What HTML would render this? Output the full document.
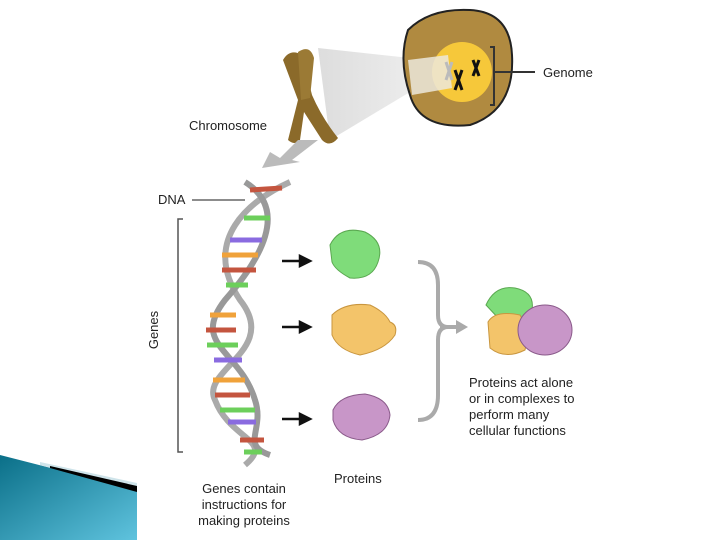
<!DOCTYPE html>
<html><head><style>
body{margin:0;width:720px;height:540px;background:#fff;overflow:hidden;position:relative;font-family:"Liberation Sans",sans-serif}
.t{position:absolute;font-size:13px;color:#222;line-height:16px}
</style></head><body>
<svg width="720" height="540" style="position:absolute;left:0;top:0">
<defs>
<linearGradient id="bl" x1="0" y1="0" x2="1" y2="1"><stop offset="0" stop-color="#0a6f88"/><stop offset="1" stop-color="#5fc3de"/></linearGradient>
<linearGradient id="beam" x1="0" y1="0" x2="1" y2="0"><stop offset="0" stop-color="#ddd"/><stop offset="1" stop-color="#f4f4f4"/></linearGradient>
</defs>
<!-- blue wedge -->
<polygon points="0,455 137,490 137,540 0,540" fill="url(#bl)"/>
<polygon points="40,462 137,483 137,490 40,465" fill="#cfe4ea"/>
<polygon points="50,466 137,486 137,492 50,468" fill="#000"/>
<!-- beam -->
<polygon points="318,48 410,58 462,72 410,92 330,140" fill="url(#beam)"/>
<!-- cell -->
<path d="M408,30 Q430,8 470,10 Q510,12 512,55 Q515,110 470,125 Q420,130 410,95 Q398,60 408,30Z" fill="#b08a40" stroke="#222" stroke-width="2"/>
<circle cx="462" cy="72" r="30" fill="#f6c83a"/>
<polygon points="408,60 448,55 452,88 412,95" fill="#ece8dc" opacity="0.85"/>
<g stroke="#111" stroke-width="3">
<line x1="446" y1="62" x2="452" y2="80" stroke="#bbb"/><line x1="452" y1="62" x2="446" y2="80" stroke="#bbb"/>
<line x1="455" y1="70" x2="462" y2="90"/><line x1="462" y1="70" x2="455" y2="90"/>
<line x1="473" y1="60" x2="479" y2="76"/><line x1="479" y1="60" x2="473" y2="76"/>
</g>
<path d="M490,47 H494 V105 H490 M494,72 H535" stroke="#333" stroke-width="2" fill="none"/>
<!-- chromosome -->
<path d="M283,60 Q290,48 302,55 L312,95 Q322,118 338,138 Q330,148 322,140 L304,112 L300,140 Q295,146 288,140 L298,100 Z" fill="#8b6a2a"/>
<path d="M298,52 Q310,44 314,58 L310,98 L301,100Z" fill="#9b7a35"/>
<!-- down arrow -->
<polygon points="298,140 318,140 292,160 300,162 262,168 270,152 280,158" fill="#bbb"/>
<!-- DNA -->
<path d="M290,182 C250,200 200,240 240,300 C280,350 200,370 215,400 C230,440 275,440 245,465" stroke="#aaa" stroke-width="6" fill="none"/>
<path d="M245,182 C290,210 260,260 225,300 C190,345 240,350 255,400 C265,430 240,445 270,455" stroke="#999" stroke-width="6" fill="none"/>
<g stroke-width="5">
<line x1="250" y1="190" x2="282" y2="188" stroke="#c4553f"/><line x1="244" y1="218" x2="270" y2="218" stroke="#6ccf5b"/>
<line x1="230" y1="240" x2="262" y2="240" stroke="#8a6be0"/><line x1="222" y1="255" x2="258" y2="255" stroke="#f0a23a"/>
<line x1="222" y1="270" x2="256" y2="270" stroke="#c4553f"/><line x1="226" y1="285" x2="248" y2="285" stroke="#6ccf5b"/>
<line x1="210" y1="315" x2="236" y2="315" stroke="#f0a23a"/><line x1="206" y1="330" x2="236" y2="330" stroke="#c4553f"/>
<line x1="207" y1="345" x2="238" y2="345" stroke="#6ccf5b"/><line x1="214" y1="360" x2="242" y2="360" stroke="#8a6be0"/>
<line x1="213" y1="380" x2="245" y2="380" stroke="#f0a23a"/><line x1="215" y1="395" x2="250" y2="395" stroke="#c4553f"/>
<line x1="220" y1="410" x2="255" y2="410" stroke="#6ccf5b"/><line x1="228" y1="422" x2="256" y2="422" stroke="#8a6be0"/>
<line x1="240" y1="440" x2="264" y2="440" stroke="#c4553f"/><line x1="244" y1="452" x2="262" y2="452" stroke="#6ccf5b"/>
</g>
<path d="M192,200 H245" stroke="#666" stroke-width="1.5"/>
<path d="M183,219 H178 V452 H183" stroke="#555" stroke-width="1.5" fill="none"/>
<!-- arrows -->
<g fill="#111" stroke="#111" stroke-width="2.5">
<line x1="282" y1="261" x2="302" y2="261"/><polygon points="300,256 310,261 300,266"/>
<line x1="282" y1="327" x2="302" y2="327"/><polygon points="300,322 310,327 300,332"/>
<line x1="282" y1="419" x2="302" y2="419"/><polygon points="300,414 310,419 300,424"/>
</g>
<!-- proteins -->
<path d="M330,245 Q340,225 365,232 Q385,242 378,262 Q372,280 350,278 Q335,270 332,262Z" fill="#7fdc7a" stroke="#5aa850"/>
<path d="M332,315 Q345,302 370,305 Q385,312 390,322 Q398,325 395,335 Q385,350 360,355 Q338,350 332,335Z" fill="#f3c46a" stroke="#c9963f"/>
<path d="M333,410 Q340,395 365,394 Q388,398 390,415 Q388,435 362,440 Q338,438 333,420Z" fill="#c896c8" stroke="#8a5a8a"/>
<!-- brace -->
<path d="M418,262 Q438,262 438,285 V315 Q438,327 448,327 Q438,327 438,340 V395 Q438,420 418,420" stroke="#aaa" stroke-width="4" fill="none"/>
<line x1="440" y1="327" x2="458" y2="327" stroke="#aaa" stroke-width="4"/><polygon points="456,320 468,327 456,334" fill="#aaa"/>
<!-- complex -->
<path d="M486,305 Q495,285 515,288 Q535,292 532,310 Q525,322 500,320Z" fill="#7fdc7a" stroke="#5aa850"/>
<path d="M488,322 Q495,310 520,315 Q530,330 525,350 Q505,360 490,348Z" fill="#f3c46a" stroke="#c9963f"/>
<ellipse cx="545" cy="330" rx="27" ry="25" fill="#c896c8" stroke="#8a5a8a"/>
</svg>
<div class="t" style="left:189px;top:118px">Chromosome</div>
<div class="t" style="left:543px;top:65px">Genome</div>
<div class="t" style="left:158px;top:192px">DNA</div>
<div class="t" style="left:135px;top:322px;transform:rotate(-90deg)">Genes</div>
<div class="t" style="left:188px;top:481px;text-align:center;width:112px">Genes contain instructions for making proteins</div>
<div class="t" style="left:334px;top:471px">Proteins</div>
<div class="t" style="left:469px;top:375px">Proteins act alone<br>or in complexes to<br>perform many<br>cellular functions</div>
</body></html>
